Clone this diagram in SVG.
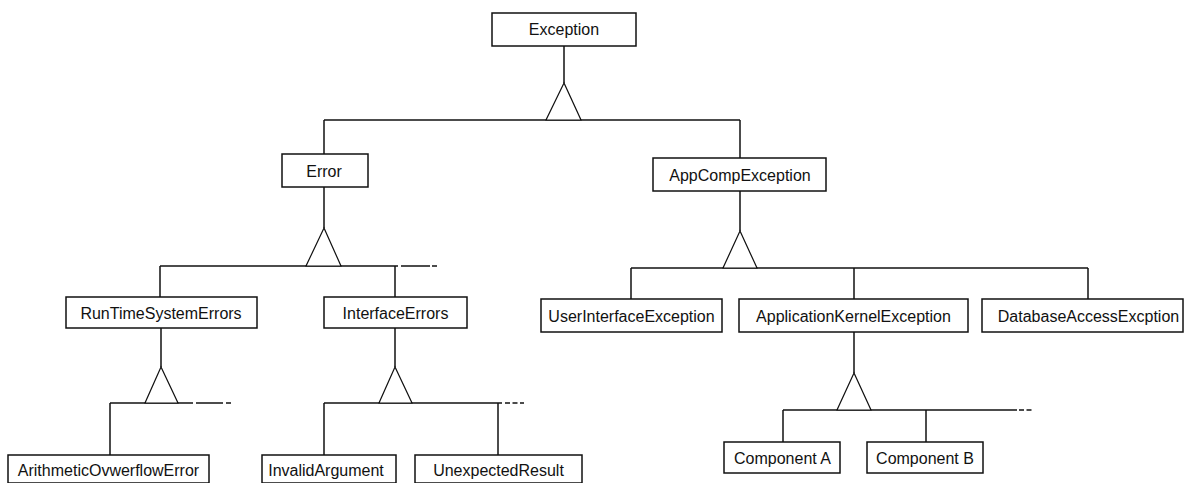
<svg xmlns="http://www.w3.org/2000/svg" width="1186" height="483" viewBox="0 0 1186 483">
  <style>
    .box rect { fill: #fff; stroke: #111; stroke-width: 1.5; }
    .box text { font-family: "Liberation Sans", Arial, sans-serif; font-size: 16px; fill: #111; text-anchor: middle; }
    .links line, .links polyline { fill: none; stroke: #111; stroke-width: 1.5; }
    .links polygon { fill: #fff; stroke: #111; stroke-width: 1.2; }
    .links .more { stroke-dasharray: 5 2.5; }
  </style>
  <rect width="1186" height="483" fill="#fff"/>

  <!-- generalisation connectors -->
  <g id="connectors" class="links">
    <!-- Exception -->
    <line x1="564" y1="46" x2="564" y2="83"/>
    <line x1="324" y1="120" x2="740" y2="120"/>
    <polygon points="564,83 546,120 581,120"/>
    <line x1="324" y1="120" x2="324" y2="154"/>
    <line x1="740" y1="120" x2="740" y2="158"/>

    <!-- Error -->
    <line x1="324" y1="187" x2="324" y2="228"/>
    <line x1="160" y1="266" x2="398" y2="266"/>
    <line x1="401" y1="266" x2="430" y2="266"/>
    <line x1="432" y1="266" x2="437" y2="266"/>
    <polygon points="324,228 306,266 341,266"/>
    <line x1="160" y1="266" x2="160" y2="297"/>
    <line x1="395" y1="266" x2="395" y2="297"/>

    <!-- AppCompException -->
    <line x1="740" y1="191" x2="740" y2="231"/>
    <line x1="631" y1="268" x2="1088" y2="268"/>
    <polygon points="740,231 723,268 757,268"/>
    <line x1="631" y1="268" x2="631" y2="299"/>
    <line x1="854" y1="268" x2="854" y2="299"/>
    <line x1="1088" y1="268" x2="1088" y2="299"/>

    <!-- RunTimeSystemErrors -->
    <line x1="161" y1="328" x2="161" y2="367"/>
    <line x1="110" y1="403" x2="193" y2="403"/>
    <line x1="196" y1="403" x2="223" y2="403"/>
    <line x1="226" y1="403" x2="231" y2="403"/>
    <polygon points="161,367 145,403 178,403"/>
    <line x1="110" y1="403" x2="110" y2="455"/>

    <!-- InterfaceErrors -->
    <line x1="395" y1="328" x2="395" y2="367"/>
    <line x1="324" y1="403" x2="502" y2="403"/>
    <line class="more" x1="505" y1="403" x2="524" y2="403"/>
    <polygon points="395,367 379,403 412,403"/>
    <line x1="324" y1="403" x2="324" y2="455"/>
    <line x1="498" y1="403" x2="498" y2="455"/>

    <!-- ApplicationKernelException -->
    <line x1="854" y1="332" x2="854" y2="373"/>
    <line x1="783" y1="410" x2="1017" y2="410"/>
    <line class="more" x1="1019" y1="410" x2="1032" y2="410"/>
    <polygon points="854,373 837,410 871,410"/>
    <line x1="783" y1="410" x2="783" y2="442"/>
    <line x1="926" y1="410" x2="926" y2="442"/>
  </g>

  <!-- classes -->
  <g id="exception" class="box">
    <rect x="492" y="13" width="144" height="33"/>
    <text x="564" y="35">Exception</text>
  </g>
  <g id="error" class="box">
    <rect x="282" y="154" width="86" height="33"/>
    <text x="324" y="176.5">Error</text>
  </g>
  <g id="appcompexception" class="box">
    <rect x="653" y="158" width="173" height="33"/>
    <text x="740" y="180.5">AppCompException</text>
  </g>
  <g id="runtimesystemerrors" class="box">
    <rect x="66" y="297" width="191" height="31"/>
    <text x="161" y="318.5">RunTimeSystemErrors</text>
  </g>
  <g id="interfaceerrors" class="box">
    <rect x="324" y="297" width="143" height="31"/>
    <text x="395.5" y="318.5">InterfaceErrors</text>
  </g>
  <g id="userinterfaceexception" class="box">
    <rect x="541" y="299" width="181" height="33"/>
    <text x="631.5" y="321.5">UserInterfaceException</text>
  </g>
  <g id="applicationkernelexception" class="box">
    <rect x="739" y="299" width="229" height="33"/>
    <text x="853.5" y="321.5">ApplicationKernelException</text>
  </g>
  <g id="databaseaccessexcption" class="box">
    <rect x="982" y="299" width="201" height="33"/>
    <text x="1088.5" y="321.5">DatabaseAccessExcption</text>
  </g>
  <g id="arithmeticovwerflowerror" class="box">
    <rect x="8" y="455" width="201" height="28"/>
    <text x="108.5" y="476">ArithmeticOvwerflowError</text>
  </g>
  <g id="invalidargument" class="box">
    <rect x="262" y="455" width="134" height="28"/>
    <text x="326" y="476">InvalidArgument</text>
  </g>
  <g id="unexpectedresult" class="box">
    <rect x="415" y="455" width="167" height="28"/>
    <text x="498.5" y="476">UnexpectedResult</text>
  </g>
  <g id="componenta" class="box">
    <rect x="724" y="442" width="116" height="31"/>
    <text x="782.5" y="463.5">Component A</text>
  </g>
  <g id="componentb" class="box">
    <rect x="867" y="442" width="116" height="31"/>
    <text x="925" y="463.5">Component B</text>
  </g>
</svg>
